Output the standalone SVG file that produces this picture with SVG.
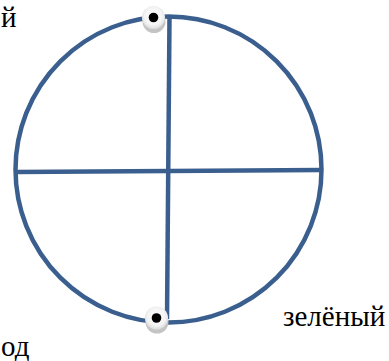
<svg xmlns="http://www.w3.org/2000/svg" width="389" height="361" viewBox="0 0 389 361">
<defs>
<radialGradient id="hl" cx="0.5" cy="0.45" r="0.55">
<stop offset="0" stop-color="#ffffff"/>
<stop offset="0.7" stop-color="#f4f4f4"/>
<stop offset="1" stop-color="#dcdcdc"/>
</radialGradient>
</defs>
<style>
.ln{fill:none;stroke:#3A5F8E;stroke-width:4.5;stroke-linecap:butt}
.sh{fill:#c4c4c4}
.hl{fill:url(#hl)}
.dot{fill:#000}
.t{font-family:"Liberation Serif","Times New Roman",serif;font-size:29px;fill:#000}
</style>
<g id="connectors">
<circle class="ln" cx="168.5" cy="169.5" r="153"/>
<line class="ln" x1="169.5" y1="17" x2="167" y2="319"/>
<line class="ln" x1="16" y1="172" x2="321" y2="170"/>
</g>
<g id="node-top">
<circle class="sh" cx="154" cy="21.5" r="11.5"/>
<circle class="hl" cx="153.5" cy="17.5" r="11.5"/>
<circle class="dot" cx="153.5" cy="17.5" r="4.8"/>
</g>
<g id="node-bottom">
<circle class="sh" cx="157" cy="322" r="11.5"/>
<circle class="hl" cx="156.5" cy="318" r="11.5"/>
<circle class="dot" cx="156.5" cy="318" r="4.8"/>
</g>
<g id="labels">
<text class="t" x="1" y="27">й</text>
<text class="t" x="283" y="326">зелёный</text>
<text class="t" x="1" y="356">од</text>
</g>
</svg>
